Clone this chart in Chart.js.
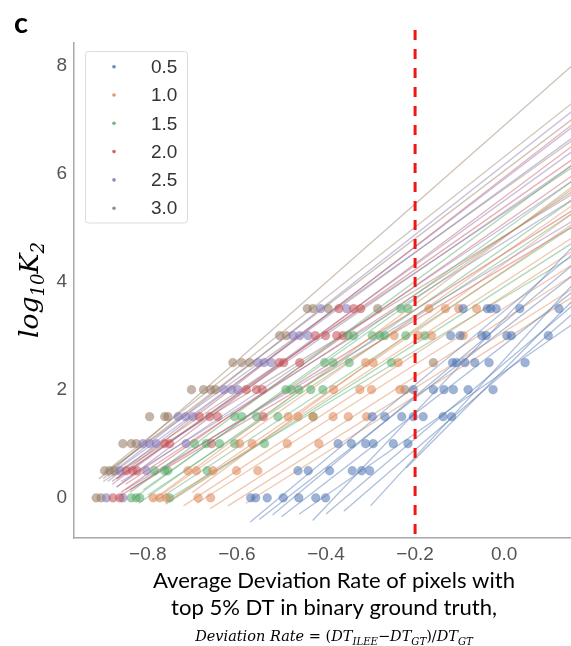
<!DOCTYPE html>
<html><head><meta charset="utf-8">
<script src="https://cdn.jsdelivr.net/npm/chart.js@4.4.1/dist/chart.umd.min.js"></script>
<style>html,body{margin:0;padding:0;background:#fff;overflow:hidden}canvas{display:block}</style>
</head><body>
<canvas id="c" width="571" height="646"></canvas>
<script>
// ---------------- data ----------------
const panelLetter = 'c';
const seriesNames = ['0.5', '1.0', '1.5', '2.0', '2.5', '3.0'];
const xTicks = [-0.8, -0.6, -0.4, -0.2, 0.0];
const yTicks = [0, 2, 4, 6, 8];
const thresholdX = -0.2;

// scatter points (deviation rate, log10 K2) per series
const s05X = [-0.569,-0.558,-0.532,-0.496,-0.461,-0.423,-0.401, -0.463,-0.440,-0.392,-0.341,-0.320,-0.302, -0.373,-0.343,-0.311,-0.294,-0.249,-0.216, -0.296,-0.268,-0.230,-0.204,-0.182,-0.137,-0.118, -0.204,-0.159,-0.135,-0.114,-0.081,-0.025, -0.116,-0.107,-0.088,-0.066,-0.034,0.047, -0.120,-0.099,-0.050,-0.040,0.006,0.016,0.099, -0.092,-0.038,-0.030,-0.018,0.035,0.123];
const s05Y = [0,0,0,0,0,0,0, 0.5,0.5,0.5,0.5,0.5,0.5, 1,1,1,1,1,1, 1.5,1.5,1.5,1.5,1.5,1.5,1.5, 2,2,2,2,2,2, 2.5,2.5,2.5,2.5,2.5,2.5, 3,3,3,3,3,3,3, 3.5,3.5,3.5,3.5,3.5,3.5];
const s10X = [-0.788,-0.773,-0.758,-0.687,-0.659, -0.710,-0.691,-0.654,-0.601,-0.553, -0.594,-0.566,-0.487,-0.416, -0.485,-0.463,-0.429,-0.384,-0.350,-0.309, -0.383,-0.324,-0.298,-0.234, -0.311,-0.294,-0.238, -0.247,-0.193,-0.163,-0.092, -0.169,-0.132,-0.102,-0.062];
const s10Y = [0,0,0,0,0, 0.5,0.5,0.5,0.5,0.5, 1,1,1,1, 1.5,1.5,1.5,1.5,1.5,1.5, 2,2,2,2, 2.5,2.5,2.5, 3,3,3,3, 3.5,3.5,3.5,3.5];
const s15X = [-0.837,-0.826,-0.818,-0.751, -0.785,-0.762,-0.755,-0.667, -0.695,-0.669,-0.639,-0.605,-0.538, -0.605,-0.589,-0.556,-0.508,-0.429, -0.490,-0.478,-0.461,-0.434,-0.407, -0.403,-0.384,-0.348,-0.253, -0.350,-0.338,-0.296,-0.279,-0.268,-0.221,-0.178, -0.232,-0.216];
const s15Y = [0,0,0,0, 0.5,0.5,0.5,0.5, 1,1,1,1,1, 1.5,1.5,1.5,1.5,1.5, 2,2,2,2,2, 2.5,2.5,2.5,2.5, 3,3,3,3,3,3,3, 3.5,3.5];
const s20X = [-0.878,-0.863, -0.848,-0.834,-0.824, -0.762,-0.751,-0.657, -0.684,-0.661,-0.643,-0.541, -0.579,-0.556,-0.543, -0.505,-0.495,-0.459, -0.424,-0.401,-0.376,-0.362, -0.371,-0.338,-0.322];
const s20Y = [0,0, 0.5,0.5,0.5, 1,1,1, 1.5,1.5,1.5,1.5, 2,2,2, 2.5,2.5,2.5, 3,3,3,3, 3.5,3.5,3.5];
const s25X = [-0.893,-0.856, -0.863,-0.803, -0.811,-0.796,-0.781,-0.714, -0.732,-0.715,-0.699, -0.629,-0.612,-0.598, -0.553,-0.539,-0.523, -0.474,-0.459,-0.440, -0.412,-0.354];
const s25Y = [0,0, 0.5,0.5, 1,1,1,1, 1.5,1.5,1.5, 2,2,2, 2.5,2.5,2.5, 3,3,3, 3.5,3.5];
const s30X = [-0.916,-0.905, -0.897,-0.886,-0.875, -0.856,-0.837,-0.826, -0.796,-0.762,-0.755, -0.702,-0.675,-0.659,-0.648,-0.223, -0.609,-0.589,-0.571,-0.159, -0.504,-0.489, -0.442,-0.429,-0.395,-0.284];
const s30Y = [0,0, 0.5,0.5,0.5, 1,1,1, 1.5,1.5,1.5, 2,2,2,2,2, 2.5,2.5,2.5,2.5, 3,3, 3.5,3.5,3.5,3.5];

// fitted lines per series: [x0, y0, x1, y1]
const s05Lines = [[-0.57,-0.45,0.16,4.55],[-0.55,-0.40,0.16,4.15],[-0.52,-0.32,0.16,4.35],[-0.50,-0.35,0.16,3.85],[-0.46,-0.30,0.16,3.25],[-0.43,-0.42,0.16,4.70],[-0.40,-0.30,0.16,3.60],[-0.36,-0.25,0.16,3.45],[-0.30,-0.15,0.16,4.00],[-0.22,0.55,0.16,3.70]];
const s10Lines = [[-0.79,-0.05,0.16,5.80],[-0.77,0.05,0.16,5.45],[-0.76,-0.10,0.16,5.10],[-0.74,0.00,0.16,4.85],[-0.72,-0.15,0.16,4.60],[-0.69,-0.10,0.16,4.35],[-0.66,-0.20,0.16,4.15],[-0.62,-0.15,0.16,3.90],[-0.58,-0.10,0.16,3.75],[-0.70,0.10,0.16,5.30]];
const s15Lines = [[-0.84,0.10,0.16,6.20],[-0.83,0.00,0.16,5.90],[-0.82,-0.10,0.16,5.55],[-0.80,0.05,0.16,5.30],[-0.78,-0.05,0.16,5.05],[-0.76,-0.12,0.16,4.75],[-0.75,0.00,0.16,4.50],[-0.81,0.15,0.16,5.75]];
const s20Lines = [[-0.88,0.30,0.16,6.95],[-0.87,0.20,0.16,6.55],[-0.87,0.35,0.16,6.30],[-0.86,0.10,0.16,6.00],[-0.85,0.25,0.16,5.70],[-0.84,0.15,0.16,5.35],[-0.86,0.05,0.16,5.05]];
const s25Lines = [[-0.89,0.40,0.16,7.20],[-0.89,0.30,0.16,6.90],[-0.88,0.45,0.16,6.70],[-0.88,0.25,0.16,6.45],[-0.87,0.35,0.16,6.20],[-0.87,0.20,0.16,5.90],[-0.86,0.30,0.16,5.55],[-0.85,0.15,0.16,5.15]];
const s30Lines = [[-0.90,0.35,0.16,8.05],[-0.90,0.45,0.16,7.35],[-0.91,0.35,0.16,7.05],[-0.89,0.50,0.16,6.65],[-0.90,0.30,0.16,6.15],[-0.88,0.40,0.16,5.65]];

// ---------------- styles ----------------
const seriesRGB = ['76,114,176','221,132,82','85,168,104','196,78,82','129,114,179','147,120,96'];
const X_MIN = -0.9657, X_MAX = 0.150, Y_MIN = -0.744, Y_MAX = 8.413, Y_DASH_TOP = 8.653;

const pointsX = [s05X, s10X, s15X, s20X, s25X, s30X];
const pointsY = [s05Y, s10Y, s15Y, s20Y, s25Y, s30Y];
const linesAll = [s05Lines, s10Lines, s15Lines, s20Lines, s25Lines, s30Lines];

const datasets = [];
seriesNames.forEach((name, i) => {
  datasets.push({
    label: name,
    data: pointsX[i].map((x, k) => ({x, y: pointsY[i][k]})),
    backgroundColor: `rgba(${seriesRGB[i]},0.55)`,
    borderColor: `rgba(${seriesRGB[i]},0.35)`,
    borderWidth: 0.6,
    pointRadius: 4.4,
    showLine: false,
    order: 1
  });
  linesAll[i].forEach(l => {
    datasets.push({
      label: name + ' fit',
      data: [{x: l[0], y: l[1]}, {x: l[2], y: l[3]}],
      borderColor: `rgba(${seriesRGB[i]},0.45)`,
      borderWidth: 1.3,
      pointRadius: 0,
      showLine: true,
      tension: 0,
      order: 2
    });
  });
});
datasets.push({
  label: 'threshold',
  data: [{x: thresholdX, y: Y_DASH_TOP}, {x: thresholdX, y: Y_MIN}],
  borderColor: 'rgb(240,22,22)',
  borderWidth: 3,
  borderDash: [10, 9],
  pointRadius: 0,
  showLine: true,
  clip: false,
  order: 0
});

function drawRich(ctx, segs, cx, y) {
  let w = 0;
  segs.forEach(s => { ctx.font = s.f; w += ctx.measureText(s.t).width; });
  let x = cx - w / 2;
  segs.forEach(s => { ctx.font = s.f; ctx.fillText(s.t, x, y + (s.dy || 0)); x += ctx.measureText(s.t).width; });
  return w;
}

const annot = {
  id: 'annot',
  afterDraw(chart) {
    const ctx = chart.ctx;
    ctx.save();
    ctx.textAlign = 'left';
    ctx.textBaseline = 'alphabetic';
    ctx.fillStyle = '#000';
    // panel letter
    ctx.font = 'bold 29px Lato';
    ctx.fillText(panelLetter, 14, 33);

    // x-axis title
    const l1 = 'Average Deviation Rate of pixels with';
    const l2 = 'top 5% DT in binary ground truth,';
    ctx.font = '22px Lato';
    const fs = 22 * 362 / ctx.measureText(l1).width;
    ctx.textAlign = 'center';
    ctx.font = fs.toFixed(2) + 'px Lato';
    ctx.fillText(l1, 334, 588);
    ctx.fillText(l2, 334, 615);
    ctx.textAlign = 'left';
    const mk = (sz) => [
      {t: 'Deviation Rate', f: `italic ${sz}px "DejaVu Serif"`},
      {t: ' = (', f: `${sz}px "DejaVu Serif"`},
      {t: 'DT', f: `italic ${sz}px "DejaVu Serif"`},
      {t: 'ILEE', f: `italic ${sz*0.7}px "DejaVu Serif"`, dy: sz*0.25},
      {t: '\u2212', f: `${sz}px "DejaVu Serif"`},
      {t: 'DT', f: `italic ${sz}px "DejaVu Serif"`},
      {t: 'GT', f: `italic ${sz*0.7}px "DejaVu Serif"`, dy: sz*0.25},
      {t: ')/', f: `${sz}px "DejaVu Serif"`},
      {t: 'DT', f: `italic ${sz}px "DejaVu Serif"`},
      {t: 'GT', f: `italic ${sz*0.7}px "DejaVu Serif"`, dy: sz*0.25}
    ];
    ctx.globalAlpha = 0;
    const w3 = drawRich(ctx, mk(14), 334, 641);
    ctx.globalAlpha = 1;
    drawRich(ctx, mk(14 * 278 / w3), 334, 641);

    // y-axis title
    ctx.save();
    ctx.translate(38, 290);
    ctx.rotate(-Math.PI / 2);
    const yk = (sz) => [
      {t: 'log', f: `italic ${sz}px "DejaVu Serif"`},
      {t: '10', f: `italic ${sz*0.68}px "DejaVu Serif"`, dy: sz*0.22},
      {t: 'K', f: `italic ${sz}px "DejaVu Serif"`},
      {t: '2', f: `italic ${sz*0.68}px "DejaVu Serif"`, dy: sz*0.22}
    ];
    ctx.globalAlpha = 0;
    const wy = drawRich(ctx, yk(26), 0, 0);
    ctx.globalAlpha = 1;
    drawRich(ctx, yk(26 * 96 / wy), 0, 0);
    ctx.restore();

    // legend
    const bx = 85.5, by = 51.5, bw = 102, bh = 171.5;
    ctx.fillStyle = 'rgba(255,255,255,0.8)';
    ctx.strokeStyle = '#dcdcdc';
    ctx.lineWidth = 1;
    ctx.beginPath();
    ctx.roundRect(bx, by, bw, bh, 3);
    ctx.fill();
    ctx.stroke();
    ctx.font = '19px "Liberation Sans"';
    ctx.textBaseline = 'middle';
    seriesNames.forEach((name, i) => {
      const yc = 66.7 + i * 28.3;
      ctx.fillStyle = `rgba(${seriesRGB[i]},0.85)`;
      ctx.beginPath();
      ctx.arc(114, yc, 1.8, 0, Math.PI * 2);
      ctx.fill();
      ctx.fillStyle = '#333';
      ctx.fillText(name, 151, yc + 1);
    });
    ctx.restore();
  }
};

new Chart(document.getElementById('c'), {
  type: 'scatter',
  data: {datasets},
  options: {
    responsive: false,
    animation: false,
    devicePixelRatio: 1,
    layout: {autoPadding: false, padding: {top: 43, left: 0, right: 0, bottom: 0}},
    plugins: {legend: {display: false}, tooltip: {enabled: false}},
    scales: {
      x: {
        type: 'linear', min: X_MIN, max: X_MAX,
        grid: {display: false, drawTicks: false},
        border: {display: true, color: '#a8a8a8', width: 1.5},
        afterBuildTicks: s => { s.ticks = xTicks.map(v => ({value: v})); },
        afterFit: s => { s.height = 108; },
        ticks: {
          font: {family: 'Liberation Sans', size: 19}, color: '#555', padding: 5, maxRotation: 0,
          callback: v => (v < -1e-9 ? '\u2212' : '') + Math.abs(v).toFixed(1)
        }
      },
      y: {
        type: 'linear', min: Y_MIN, max: Y_MAX,
        grid: {display: false, drawTicks: false},
        border: {display: true, color: '#a8a8a8', width: 1.5},
        afterBuildTicks: s => { s.ticks = yTicks.map(v => ({value: v})); },
        afterFit: s => { s.width = 74; },
        ticks: {font: {family: 'Liberation Sans', size: 19}, color: '#555', padding: 7, callback: v => String(v)}
      }
    }
  },
  plugins: [annot]
});
</script></body></html>
